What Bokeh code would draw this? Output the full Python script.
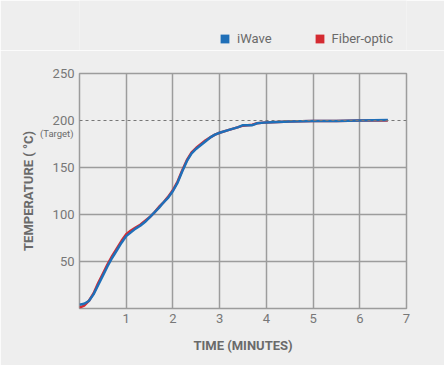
from bokeh.plotting import figure
from bokeh.models import (FixedTicker, Span, Legend, LegendItem, Range1d,
                          ColumnDataSource, LinearAxis)
from bokeh.layouts import column
from bokeh.embed import file_html
from bokeh.resources import INLINE

# ---- data ----
time_iwave = [0, 0.1, 0.2, 0.3, 0.4, 0.5, 0.6, 0.7, 0.8, 0.9, 1.0, 1.1, 1.2, 1.3, 1.4,
              1.5, 1.6, 1.7, 1.8, 1.9, 2.0, 2.1, 2.2, 2.3, 2.4, 2.5, 2.6, 2.7, 2.8, 2.9,
              3.0, 3.2, 3.4, 3.5, 3.6, 3.7, 3.8, 4.0, 4.5, 5.0, 5.5, 6.0, 6.6]
temp_iwave = [4, 5, 8, 15, 25, 35, 45, 54, 62, 70, 77, 81, 85, 88, 92,
              97, 102, 107, 113, 118, 125, 134, 146, 157, 165, 170, 174, 178, 182, 185,
              187, 190, 193, 195, 195, 195, 197, 198, 199, 199.5, 199.5, 200, 200.5]

time_fiber = [0, 0.1, 0.2, 0.3, 0.4, 0.5, 0.6, 0.7, 0.8, 0.9, 1.0, 1.1, 1.2, 1.3, 1.4,
              1.5, 1.6, 1.7, 1.8, 1.9, 2.0, 2.1, 2.2, 2.3, 2.4, 2.5, 2.6, 2.7, 2.8, 2.9,
              3.0, 3.2, 3.4, 3.5, 3.6, 3.7, 3.8, 4.0, 4.5, 5.0, 5.5, 6.0, 6.6]
temp_fiber = [1, 3, 8, 16, 27, 37, 47, 56, 64, 72, 79, 83, 86, 89, 93,
              97, 102, 108, 113, 119, 126, 135, 147, 158, 166, 171, 175, 179, 182, 185,
              187, 190, 193, 194.5, 195, 195.5, 197, 198, 199, 199.5, 199.5, 200, 200]

x_ticks = [1, 2, 3, 4, 5, 6, 7]
y_ticks = [50, 100, 150, 200, 250]
target = 200
target_note = "(Target)"
series_names = ["iWave", "Fiber-optic"]
series_colors = ["#1f6fb8", "#d42a31"]

FONT = "Roboto"
GRID = "#9c9c9c"
TXT = "#6a6a6a"
BG = "#eeeeee"
NAN = float("nan")

W = 444

# ---------- legend strip ----------
lg = figure(width=W, height=50, output_backend="svg", toolbar_location=None,
            x_range=Range1d(0, 1), y_range=Range1d(0, 1),
            x_axis_location=None, y_axis_location=None, min_border=0)
lg.grid.visible = False
lg.outline_line_color = None
lg.background_fill_color = BG
lg.border_fill_color = BG
items = []
for name, col in zip(series_names, series_colors):
    r = lg.quad(source=ColumnDataSource(dict(l=[NAN], r=[NAN], t=[NAN], b=[NAN])),
                left="l", right="r", top="t", bottom="b",
                fill_color=col, line_color=None)
    items.append(LegendItem(label=name, renderers=[r]))
leg = Legend(items=items, orientation="horizontal", location=(140, 2),
             glyph_width=11, glyph_height=11, label_standoff=7, spacing=42,
             padding=0, margin=0, background_fill_alpha=0, border_line_color=None,
             label_text_font=FONT, label_text_font_size="13px",
             label_text_color=TXT, label_height=20)
lg.add_layout(leg)

# ---------- main chart ----------
p = figure(width=W, height=315, output_backend="svg", toolbar_location=None,
           x_range=Range1d(0, 7), y_range=Range1d(0, 250),
           min_border_left=79, min_border_right=W - 406, min_border_top=23,
           min_border_bottom=57)
p.background_fill_color = BG
p.border_fill_color = BG
p.outline_line_color = GRID
p.outline_line_width = 1.5

p.xgrid.ticker = FixedTicker(ticks=[1, 2, 3, 4, 5, 6])
p.ygrid.ticker = FixedTicker(ticks=[50, 100, 150])
for g in (p.xgrid[0], p.ygrid[0]):
    g.grid_line_color = GRID
    g.grid_line_width = 1.5

p.add_layout(Span(location=target, dimension="width", line_color="#777777",
                  line_width=1, line_dash="3 3"))

p.xaxis.ticker = FixedTicker(ticks=x_ticks)
p.yaxis.ticker = FixedTicker(ticks=y_ticks)

# second left axis carrying the "(Target)" note under 200 and the axis title
note_pos = target - 14
ax2 = LinearAxis(ticker=FixedTicker(ticks=[note_pos]),
                 major_label_overrides={note_pos: target_note},
                 major_label_text_font_size="9.5px",
                 major_label_standoff=-24,
                 axis_label="TEMPERATURE ( °C)", axis_label_standoff=1)
p.add_layout(ax2, "left")

for ax in (p.xaxis[0], p.yaxis[0], ax2):
    ax.axis_line_color = None
    ax.major_tick_line_color = None
    ax.minor_tick_line_color = None
    ax.major_tick_out = 0
    ax.major_tick_in = 0
    ax.major_label_text_font = FONT
    ax.major_label_text_color = "#777777"
    ax.axis_label_text_font = FONT
    ax.axis_label_text_font_size = "13px"
    ax.axis_label_text_font_style = "bold"
    ax.axis_label_text_color = TXT
for ax in (p.xaxis[0], p.yaxis[0]):
    ax.major_label_text_font_size = "13px"
    ax.major_label_standoff = 5
ax2.major_label_text_color = TXT
p.xaxis.axis_label = "TIME (MINUTES)"
p.xaxis.axis_label_standoff = 12

p.line(time_fiber, temp_fiber, line_color=series_colors[1], line_width=2.5)
p.line(time_iwave, temp_iwave, line_color=series_colors[0], line_width=2.5)

layout = column(lg, p, spacing=0)
open("out.html", "w").write(file_html(layout, INLINE))
